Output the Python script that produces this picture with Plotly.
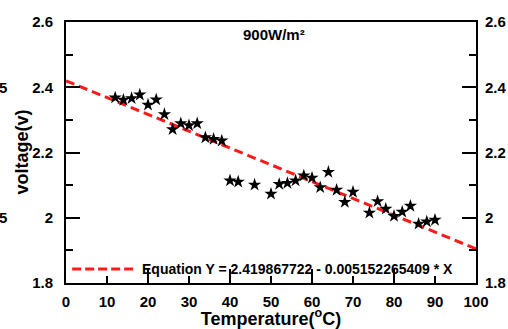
import plotly.graph_objects as go

# ---- data ----
temperature = [12, 14, 16, 18, 20, 22, 24, 26, 28, 30, 32, 34, 36, 38, 40, 42, 46, 50, 52,
               54, 56, 58, 60, 62, 64, 66, 68, 70, 74, 76, 78, 80, 82, 84, 86, 88, 90]
voltage = [2.368, 2.361, 2.366, 2.377, 2.346, 2.362, 2.317, 2.271, 2.289, 2.283, 2.289,
           2.246, 2.241, 2.236, 2.114, 2.110, 2.101, 2.073, 2.103, 2.106, 2.114, 2.129,
           2.122, 2.093, 2.140, 2.085, 2.048, 2.079, 2.015, 2.050, 2.027, 2.005, 2.018,
           2.036, 1.981, 1.988, 1.993]

fit_intercept = 2.419867722
fit_slope = -0.005152265409
fit_x = [0, 100]
fit_y = [fit_intercept + fit_slope * v for v in fit_x]

legend_label = "Equation Y = 2.419867722 - 0.005152265409 * X"
panel_title = "900W/m²"
x_title = "Temperature(<sup>o</sup>C)"
y_title = "voltage(v)"
cut_labels = [2.4, 2.0]   # partially visible labels of neighbouring panel

FONT = "Liberation Sans, Arial, sans-serif"
RED = "#ff1a1a"
X_RANGE = [0, 100]
Y_RANGE = [1.8, 2.6]

fig = go.Figure()
fig.add_trace(go.Scatter(x=fit_x, y=fit_y, mode="lines",
                         line=dict(color=RED, width=3, dash="9px,5px"),
                         showlegend=False, hoverinfo="skip"))
fig.add_trace(go.Scatter(x=temperature, y=voltage, mode="markers",
                         marker=dict(symbol="star", size=10, color="black",
                                     line=dict(width=0)),
                         showlegend=False))
# empty traces so that the overlay axes have their own subplots
fig.add_trace(go.Scatter(x=[None], y=[None], xaxis="x2", yaxis="y",
                         showlegend=False, hoverinfo="skip"))
fig.add_trace(go.Scatter(x=[None], y=[None], xaxis="x", yaxis="y2",
                         showlegend=False, hoverinfo="skip"))


def tfont():
    return dict(family=FONT, size=15, color="black", weight="bold")


def y_axis(**kw):
    d = dict(range=Y_RANGE, autorange=False, tickmode="linear", tick0=1.8, dtick=0.2,
             ticks="inside", ticklen=14, tickwidth=2, tickcolor="black",
             minor=dict(dtick=0.1, ticks="inside", ticklen=7,
                        tickwidth=2, tickcolor="black"),
             showgrid=False, zeroline=False, tickfont=tfont(),
             showline=True, linewidth=2, linecolor="black")
    d.update(kw)
    return d


fig.update_layout(
    template="none",
    width=508, height=329,
    margin=dict(l=66, r=32, t=22, b=46),
    paper_bgcolor="white", plot_bgcolor="white",
    showlegend=False,
    font=dict(family=FONT, color="black"),
    xaxis=dict(range=X_RANGE, autorange=False, tickmode="linear", tick0=0, dtick=10,
               ticks="inside", ticklen=7, tickwidth=2, tickcolor="black",
               showline=True, linewidth=2, linecolor="black", mirror=True,
               showgrid=False, zeroline=False, tickfont=tfont(),
               ticklabelstandoff=4,
               title=dict(text=x_title, standoff=4,
                          font=dict(family=FONT, size=18, weight="bold"))),
    xaxis2=dict(range=X_RANGE, autorange=False, overlaying="x", anchor="y", side="bottom",
                tickmode="linear", tick0=0, dtick=20,
                ticks="inside", ticklen=14, tickwidth=2, tickcolor="black",
                showticklabels=False, showline=False, showgrid=False,
                zeroline=False),
    yaxis=y_axis(side="left", ticklabelstandoff=8),
    yaxis2=y_axis(overlaying="y", anchor="x", side="right", ticklabelstandoff=4),
)

# y-axis title
fig.add_annotation(xref="paper", yref="paper", x=(21 - 66) / 410, y=0.5,
                   xanchor="center", yanchor="middle", showarrow=False,
                   textangle=-90, text=y_title,
                   font=dict(family=FONT, size=18, weight="bold", color="black"))

# legend drawn manually (long dashed sample as in the reference)
fig.add_shape(type="line", xref="paper", yref="paper",
              x0=0.015, x1=0.171, y0=0.054, y1=0.054,
              line=dict(color=RED, width=3, dash="9px,4px"))
fig.add_annotation(xref="paper", yref="paper", x=0.181, y=0.054,
                   xanchor="left", yanchor="middle", showarrow=False,
                   text=legend_label,
                   font=dict(family=FONT, size=14, weight="bold", color="black"))

fig.add_annotation(xref="paper", yref="paper", x=0.507, y=0.954,
                   xanchor="center", yanchor="middle", showarrow=False,
                   text=panel_title,
                   font=dict(family=FONT, size=15, weight="bold", color="black"))

for v in cut_labels:
    fig.add_annotation(xref="paper", yref="y", x=(9 - 66) / 410, y=v,
                       xanchor="right", yanchor="middle", showarrow=False,
                       text="5",
                       font=dict(family=FONT, size=15, weight="bold", color="black"))

fig.write_html("out.html")
